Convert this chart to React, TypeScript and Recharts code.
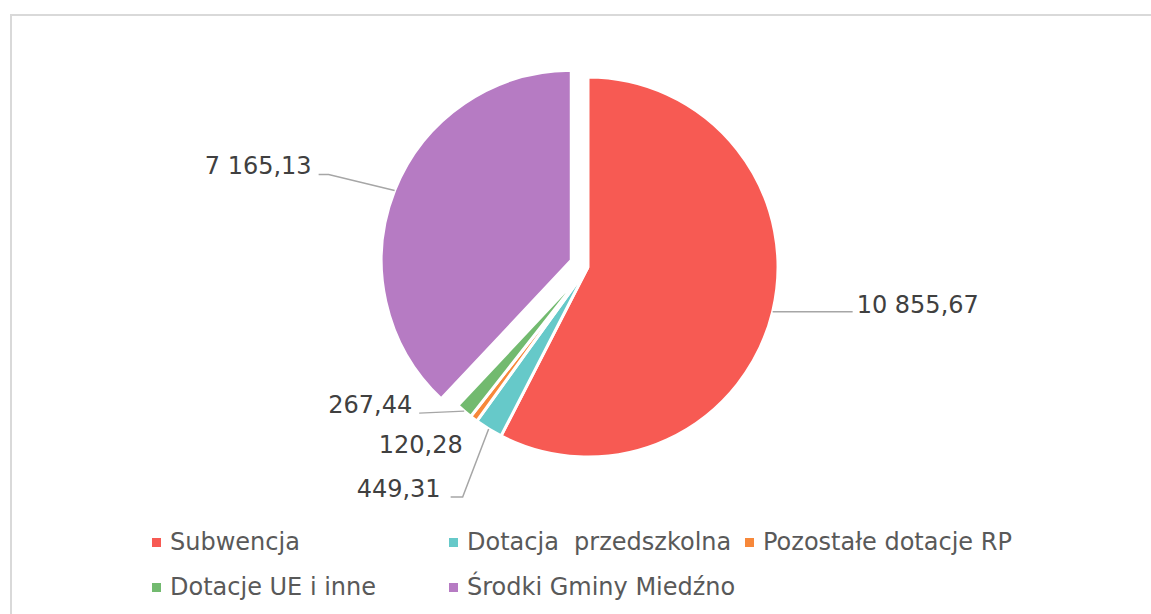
import React from 'react';
import { PieChart, Pie, Cell, Legend } from 'recharts';

const categories = ['Subwencja', 'Dotacja  przedszkolna', 'Pozostałe dotacje RP', 'Dotacje UE i inne', 'Środki Gminy Miedźno'];
const values = [10855.67, 449.31, 120.28, 267.44, 7165.13];
const valueLabels = ['10 855,67', '449,31', '120,28', '267,44', '7 165,13'];
const colors = ['#F75A53', '#66C9C9', '#F7883A', '#72BA6F', '#B67BC3'];
const explodedIndex = 4;

const data = categories.map((name, i) => ({ name, value: values[i] }));

const W = 1151;
const H = 614;
const CX = 588;
const CY = 267;
const R = 190;
const EXPLODE = 18;

// label layout: elbow offset from anchor (ex, ey), then horizontal run (hx), text gap, side
const LABEL_LAYOUT = [
  { ex: 80, ey: 0, hx: 0, gap: 4, tdy: 1, side: 'right', line: true },
  { ex: -26, ey: 68, hx: -12, gap: 10, tdy: 0, side: 'left', line: true },
  { ex: -11, ey: 34, hx: 0, gap: 0, tdy: 0, side: 'left', line: false },
  { ex: -45, ey: 2, hx: 0, gap: 7, tdy: 0, side: 'left', line: true },
  { ex: -66, ey: -16, hx: -10, gap: 7, tdy: 0, side: 'left', line: true },
];

const RAD = Math.PI / 180;

const total = values.reduce((a, b) => a + b, 0);
const before = values.slice(0, explodedIndex).reduce((a, b) => a + b, 0);
const midFrac = (before + values[explodedIndex] / 2) / total;
const theta = midFrac * 360 * RAD; // clockwise from top
const ECX = CX + EXPLODE * Math.sin(theta);
const ECY = CY - EXPLODE * Math.cos(theta);

function makeLabel(show: (i: number) => boolean) {
  return (props: any) => {
    const { cx, cy, midAngle, outerRadius, index } = props;
    if (!show(index)) return null;
    const ax = cx + outerRadius * Math.cos(-midAngle * RAD);
    const ay = cy + outerRadius * Math.sin(-midAngle * RAD);
    const L = LABEL_LAYOUT[index];
    const bx = ax + L.ex;
    const by = ay + L.ey;
    const endX = bx + L.hx;
    const endY = by;
    const tx = L.side === 'right' ? endX + L.gap : endX - L.gap;
    return (
      <g key={`lbl-${index}`}>
        {L.line && (
          <polyline
            points={`${ax},${ay} ${bx},${by} ${endX},${endY}`}
            fill="none"
            stroke="#A6A6A6"
            strokeWidth={1.5}
          />
        )}
        <text
          x={tx}
          y={endY + L.tdy}
          textAnchor={L.side === 'right' ? 'start' : 'end'}
          fontFamily="'DejaVu Sans', Verdana, sans-serif"
          fontSize={24}
          fill="#404040"
        >
          {valueLabels[index]}
        </text>
      </g>
    );
  };
}

const legendCols = [152, 449, 745];
const legendRows = [542, 587];

const LegendContent = () => (
  <div style={{ position: 'relative', width: W, height: H }}>
    {categories.map((c, i) => {
      const row = i < 3 ? 0 : 1;
      const col = i < 3 ? i : i - 3;
      const x = legendCols[col];
      const y = legendRows[row];
      return (
        <div key={c} style={{ position: 'absolute', left: x, top: y - 15, height: 30, display: 'flex', alignItems: 'center' }}>
          <div style={{ width: 9, height: 9, background: colors[i], marginRight: 9 }} />
          <span
            style={{
              fontFamily: "'DejaVu Sans', Verdana, sans-serif",
              fontSize: 24,
              color: '#595959',
              whiteSpace: 'pre',
              lineHeight: '30px',
            }}
          >
            {c}
          </span>
        </div>
      );
    })}
  </div>
);

export default function App() {
  return (
    <div style={{ position: 'absolute', left: 0, top: 0, width: W, height: H, background: '#fff', overflow: 'hidden' }}>
      <div
        style={{
          position: 'absolute',
          left: 10,
          top: 14,
          width: W + 100,
          height: H + 100,
          border: '2px solid #D9D9D9',
          boxSizing: 'border-box',
        }}
      />
      <div style={{ position: 'absolute', left: 0, top: 0 }}>
        <PieChart width={W} height={H} margin={{ top: 0, right: 0, bottom: 0, left: 0 }}>
          <Pie
            data={data}
            dataKey="value"
            nameKey="name"
            cx={CX}
            cy={CY}
            outerRadius={R}
            startAngle={90}
            endAngle={-270}
            stroke="#fff"
            strokeWidth={3}
            isAnimationActive={false}
            labelLine={false}
            label={makeLabel((i) => i !== explodedIndex)}
          >
            {data.map((d, i) => (
              <Cell
                key={d.name}
                fill={i === explodedIndex ? 'transparent' : colors[i]}
                stroke={i === explodedIndex ? 'none' : '#fff'}
              />
            ))}
          </Pie>
          <Pie
            data={data}
            dataKey="value"
            nameKey="name"
            cx={ECX}
            cy={ECY}
            outerRadius={R}
            startAngle={90}
            endAngle={-270}
            stroke="#fff"
            strokeWidth={3}
            isAnimationActive={false}
            labelLine={false}
            label={makeLabel((i) => i === explodedIndex)}
          >
            {data.map((d, i) => (
              <Cell
                key={d.name}
                fill={i === explodedIndex ? colors[i] : 'transparent'}
                stroke={i === explodedIndex ? '#fff' : 'none'}
              />
            ))}
          </Pie>
          <Legend
            content={<LegendContent />}
            wrapperStyle={{ position: 'absolute', left: 0, top: 0, width: W, height: H, bottom: 'auto' }}
          />
        </PieChart>
      </div>
    </div>
  );
}
